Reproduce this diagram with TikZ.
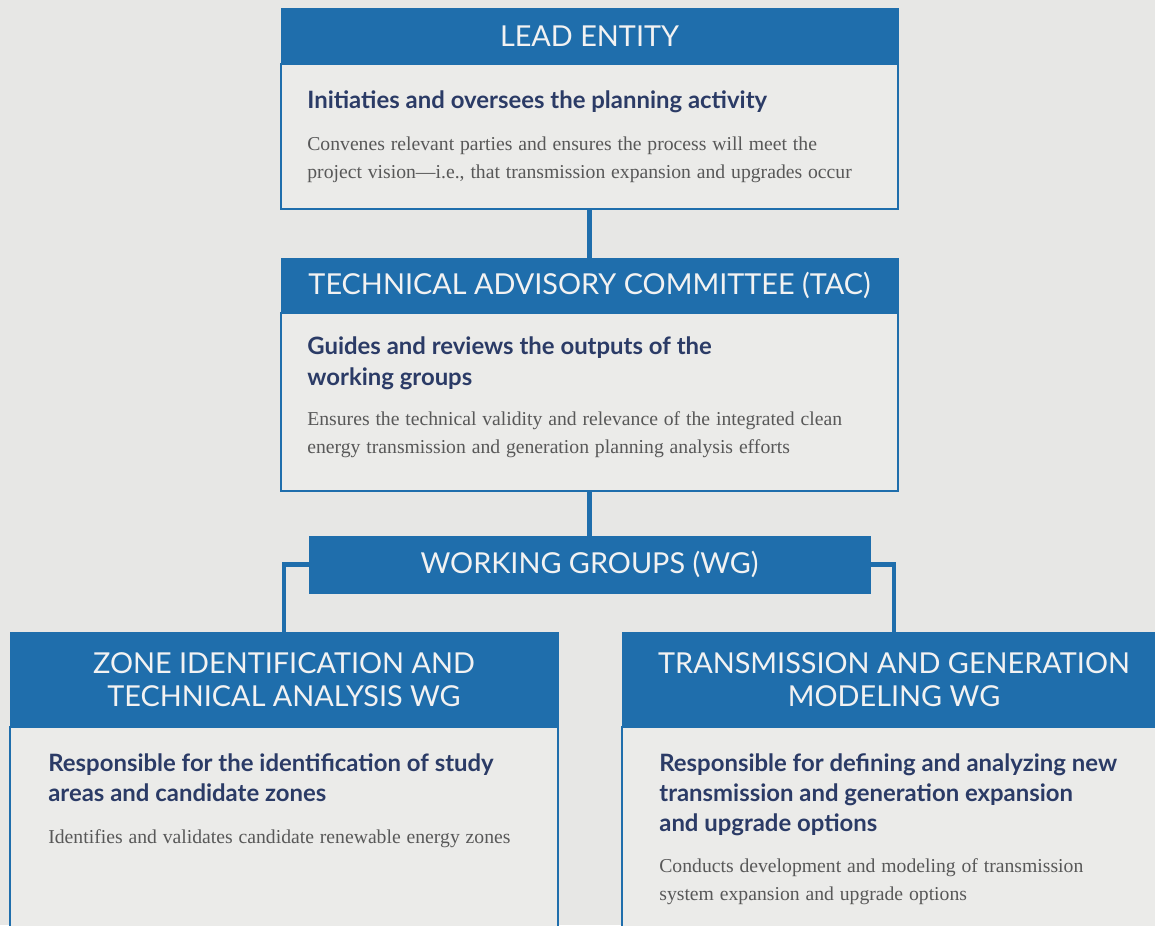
\documentclass[tikz,border=0pt]{standalone}
\usepackage{fontspec}
\setmainfont{Liberation Serif}
\newfontfamily\gillfont{Lato}
\usetikzlibrary{positioning}
\definecolor{wgblue}{HTML}{1F6EAC}
\definecolor{paper}{HTML}{E7E7E5}
\definecolor{panel}{HTML}{EBEBE9}
\definecolor{navy}{HTML}{2B3B66}
\definecolor{ink}{HTML}{585858}
\newcommand\ttlfont{\gillfont\bfseries\fontsize{13.6}{17.3}\selectfont\color{navy}}
\newcommand\descfont{\rmfamily\mdseries\fontsize{11.2}{16}\selectfont\color{ink}}

\begin{document}
\begin{tikzpicture}[node distance=0pt,
 head/.style={fill=wgblue,draw=wgblue,text=white!95!black,align=center,font=\gillfont\fontsize{16.4}{18.5}\selectfont,inner sep=0pt,outer sep=0pt},
 body/.style={draw=wgblue,line width=1.1pt,fill=panel,inner sep=0pt,outer sep=0pt},
 txt/.style={anchor=north west,inner sep=0pt,align=left,text width=11.6cm},
 link/.style={draw=wgblue,line width=2.8pt}]
\clip (0,0) rectangle (23.1,-18.5);
\fill[paper] (0,0) rectangle (23.1,-18.5);
% top of the chart
\node[head,minimum width=12.34cm,minimum height=1.12cm] (lead) at (11.79,-0.72) {LEAD ENTITY};
\node[body,minimum width=12.34cm,minimum height=2.9cm,below=of lead] (leadb) {};
\node[txt] (leadt) at ([shift={(0.52,-0.52)}]leadb.north west) {\ttlfont Initiaties and oversees the planning activity\par\vspace{8pt}
 \descfont Convenes relevant parties and ensures the process will meet the\\ project vision---i.e., that transmission expansion and upgrades occur\par};
\node[head,minimum width=12.34cm,minimum height=1.1cm,below=0.98cm of leadb] (tac) {TECHNICAL ADVISORY COMMITTEE (TAC)};
\node[body,minimum width=12.34cm,minimum height=3.56cm,below=of tac] (tacb) {};
\node[txt] (tact) at ([shift={(0.52,-0.47)}]tacb.north west) {\ttlfont Guides and reviews the outputs of the\\ working groups\par\vspace{7pt}
 \descfont Ensures the technical validity and relevance of the integrated clean\\ energy transmission and generation planning analysis efforts\par};
% working groups
\node[head,minimum width=11.22cm,minimum height=1.14cm,below=0.9cm of tacb] (wg) {WORKING GROUPS (WG)};
\node[head,minimum width=10.96cm,minimum height=1.9cm] (zone) at (5.68,-13.59) {ZONE IDENTIFICATION AND\\ TECHNICAL ANALYSIS WG};
\node[body,minimum width=10.96cm,minimum height=4.26cm,below=of zone] (zoneb) {};
\node[txt] (zonet) at ([shift={(0.76,-0.52)}]zoneb.north west) {\ttlfont Responsible for the identification of study\\ areas and candidate zones\par\vspace{8pt}
 \descfont Identifies and validates candidate renewable energy zones\par};
\node[head,minimum width=10.88cm,minimum height=1.9cm] (tgm) at (17.88,-13.59) {TRANSMISSION AND GENERATION\\ MODELING WG};
\node[body,minimum width=10.88cm,minimum height=4.26cm,below=of tgm] (tgmb) {};
\node[txt] (tgmt) at ([shift={(0.74,-0.52)}]tgmb.north west) {\ttlfont Responsible for defining and analyzing new\\ transmission and generation expansion\\ and upgrade options\par\vspace{7pt}
 \descfont Conducts development and modeling of transmission\\ system expansion and upgrade options\par};
% connectors
\draw[link] (leadb) -- (tac);
\draw[link] (tacb) -- (wg);
\draw[link] (wg.west) -| (zone);
\draw[link] (wg.east) -| (tgm);
\end{tikzpicture}
\end{document}
